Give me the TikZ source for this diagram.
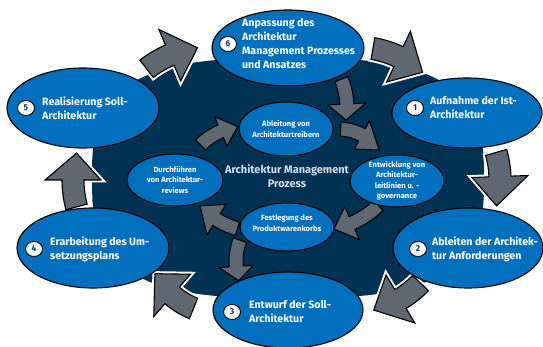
\documentclass[tikz,border=0pt]{standalone}
\usepackage{fontspec}
\setmainfont{Fira Sans}
\usetikzlibrary{calc}
\usetikzlibrary{positioning}
\usetikzlibrary{shapes.geometric}
\definecolor{ringdark}{RGB}{0,50,84}
\definecolor{boxblue}{RGB}{0,112,190}
\definecolor{arrowgray}{RGB}{95,103,112}
\definecolor{numnavy}{RGB}{20,50,90}
\definecolor{coretext}{RGB}{215,222,230}

% curved block arrow: [style]{centre}{radius}{tail angle}{head angle}{tip angle}{half shaft}{half head}
\newcommand{\ringarrow}[8][]{%
  \draw[#1] ($(#2)+(#4:{#3+#7})$) arc[start angle=#4,end angle=#5,radius={#3+#7}]
    -- ($(#2)+(#5:{#3+#8})$) -- ($(#2)+(#6:#3)$) -- ($(#2)+(#5:{#3-#8})$)
    -- ($(#2)+(#5:{#3-#7})$) arc[start angle=#5,end angle=#4,radius={#3-#7}] -- cycle;}

\begin{document}
\begin{tikzpicture}[x=1pt,y=1pt,
  outer/.style={ellipse,draw=black,line width=1.1pt,fill=boxblue,inner sep=0pt},
  inner/.style={ellipse,draw=black,line width=1pt,fill=boxblue,inner sep=0pt},
  innerlabel/.style={text=white,font=\fontsize{7.6}{10.5}\selectfont\bfseries,align=center,inner sep=0pt},
  num/.style={ellipse,draw=black,line width=0.9pt,fill=white,inner sep=0pt,minimum width=17pt,minimum height=15pt,text=numnavy,font=\fontsize{8.5}{8.5}\selectfont\bfseries},
  outerlabel/.style={text=white,font=\fontsize{10.6}{14}\selectfont\bfseries,align=left,inner sep=0pt},
  bigarrow/.style={fill=arrowgray,draw=black,line width=1.1pt,line join=miter,preaction={draw=white,line width=5pt}},
  smallarrow/.style={fill=arrowgray,draw=black,line width=1pt,line join=miter}]
  \useasboundingbox (0,0) rectangle (543,-347);

  % dark ring behind everything
  \fill[ringdark] plot[domain=1:361,samples=91,variable=\t]
    ({288+196*sign(cos(\t))*pow(abs(cos(\t)),2/3)},{-178+120*sign(sin(\t))*pow(abs(sin(\t)),2/3)}) -- cycle;

  % outer cycle arrows
  \coordinate (cA) at (210,-150);
  \coordinate (cB) at (355,-150);
  \coordinate (cC) at (400,-180);
  \coordinate (cD) at (350,-215);
  \coordinate (cE) at (222,-238);
  \coordinate (cF) at (177,-180);
  \ringarrow[bigarrow]{cA}{103}{128}{113}{97}{11}{28}
  \ringarrow[bigarrow]{cB}{103}{80}{65}{49}{11}{28}
  \ringarrow[bigarrow]{cC}{100}{16}{2}{-15}{11}{28}
  \ringarrow[bigarrow]{cD}{98}{-44}{-59}{-76}{11}{28}
  \ringarrow[bigarrow]{cE}{76}{-112}{-131}{-152}{11}{28}
  \ringarrow[bigarrow]{cF}{104}{195}{180}{165}{11}{28}

  % outer steps
  \node[outer,minimum width=152pt,minimum height=76pt] (p6) at (288,-48) {};
  \node[outer,minimum width=150pt,minimum height=70pt] (p1) at (467,-113) {};
  \node[outer,minimum width=150pt,minimum height=80pt] (p2) at (468,-248) {};
  \node[outer,minimum width=150pt,minimum height=76pt] (p3) at (288,-310) {};
  \node[outer,minimum width=152pt,minimum height=80pt] (p4) at (93,-248) {};
  \node[outer,minimum width=152pt,minimum height=80pt] (p5) at (83,-108) {};

  % inner cycle arrows
  \coordinate (ca) at (270,-108);
  \coordinate (cb) at (338,-180);
  \coordinate (cc) at (315,-140);
  \coordinate (cd) at (260,-150);
  \coordinate (ce) at (300,-262);
  \coordinate (cf) at (247,-193);
  \ringarrow[smallarrow]{ca}{77}{22}{3}{-9}{7}{19}
  \ringarrow[smallarrow]{cb}{51}{87}{62}{36}{7}{16}
  \ringarrow[smallarrow]{cc}{91}{-46}{-66}{-78}{7}{18}
  \ringarrow[smallarrow]{cd}{82}{-106}{-122}{-137}{7}{18}
  \ringarrow[smallarrow]{ce}{64}{160}{184}{197}{7}{17}
  \ringarrow[smallarrow]{cf}{67}{134}{113}{98}{7}{16}

  % inner steps
  \node[inner,minimum width=94pt,minimum height=54pt] (i1) at (286,-129) {};
  \node[inner,minimum width=94pt,minimum height=52pt] (i2) at (397,-181) {};
  \node[inner,minimum width=94pt,minimum height=48pt] (i3) at (287,-227) {};
  \node[inner,minimum width=96pt,minimum height=52pt] (i4) at (175,-180) {};
  \node[innerlabel] (t1) at (i1.center) {Ableitung von\\Architekturtreibern};
  \node[innerlabel] (t2) at (i2.center) {Entwicklung von\\Architektur-\\leitlinien u. -\\governance};
  \node[innerlabel] (t3) at ($(i3.center)+(0,4)$) {Festlegung des\\Produktwarenkorbs};
  \node[innerlabel] (t4) at (i4.center) {Durchführen\\von Architektur-\\reviews};

  % numbers and texts of the outer steps
  \node[num] (n1) at (415,-108) {1};
  \node[num] (n2) at (418,-249) {2};
  \node[num] (n3) at (232,-312) {3};
  \node[num] (n4) at (34,-249) {4};
  \node[num] (n5) at (26,-108) {5};
  \node[num] (n6) at (228,-44) {6};
  \node[outerlabel,right=6pt of n1] (l1) {Aufnahme der Ist-\\Architektur};
  \node[outerlabel,right=5pt of n2] (l2) {Ableiten der Architek-\\tur Anforderungen};
  \node[outerlabel,right=8pt of n3] (l3) {Entwurf der Soll-\\Architektur};
  \node[outerlabel,right=7pt of n4] (l4) {Erarbeitung des Um-\\setzungsplans};
  \node[outerlabel,right=7pt of n5] (l5) {Realisierung Soll-\\Architektur};
  \node[outerlabel,right=5pt of n6] (l6) {Anpassung des\\Architektur\\Management Prozesses\\und Ansatzes};

  \node[text=coretext,font=\fontsize{11}{13.5}\selectfont\bfseries,align=center] (core) at (287,-176) {Architektur Management\\Prozess};
\end{tikzpicture}
\end{document}
